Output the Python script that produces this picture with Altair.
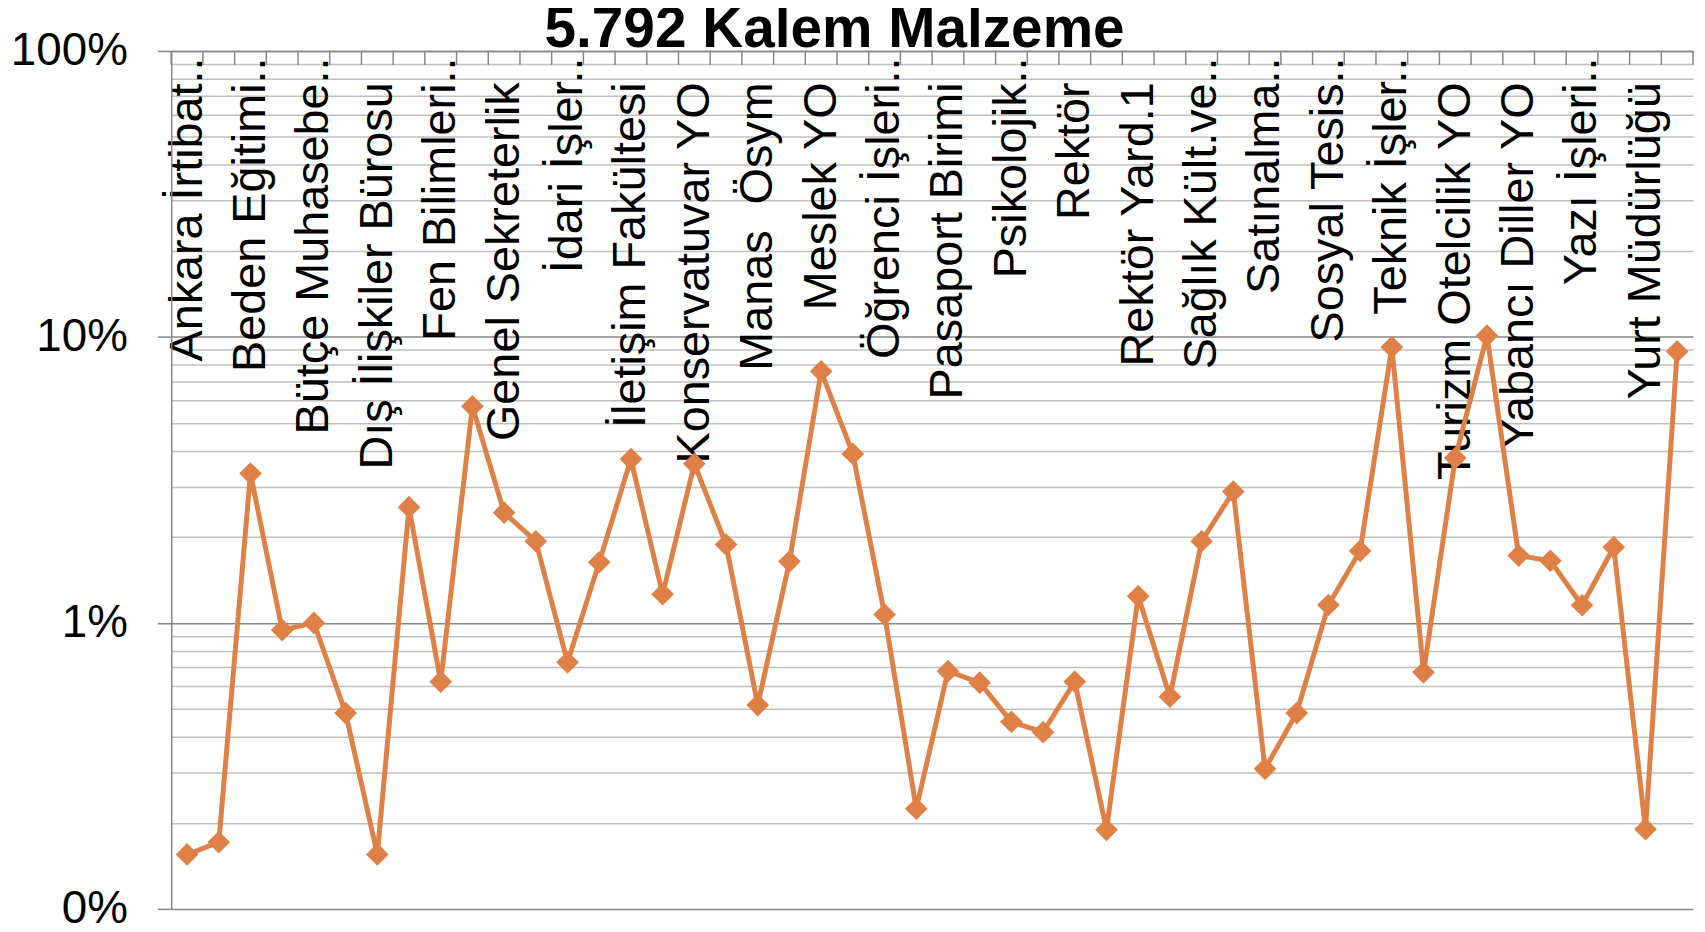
import json
import altair as alt
import pandas as pd

chart_title = "5.792 Kalem Malzeme"

# labels shown on every other category (Excel skips alternate labels)
shown_labels = [
    "Ankara İrtibat..", "Beden Eğitimi..", "Bütçe Muhasebe..", "Dış İlişkiler Bürosu",
    "Fen Bilimleri..", "Genel Sekreterlik", "İdari İşler..", "İletişim Fakültesi",
    "Konservatuvar YO", "Manas\u00a0 Ösym", "Meslek YO", "Öğrenci İşleri..",
    "Pasaport Birimi", "Psikolojik..", "Rektör", "Rektör Yard.1",
    "Sağlık Kült.ve..", "Satınalma..", "Sosyal Tesis..", "Teknik İşler..",
    "Turizm Otelcilik YO", "Yabancı Diller YO", "Yazı İşleri..", "Yurt Müdürlüğü",
]

# share of items per unit, in percent
share_pct = [
    0.155, 0.171, 3.33, 0.944, 1.0, 0.484, 0.155, 2.54, 0.623, 5.72,
    2.43, 1.93, 0.728, 1.63, 3.74, 1.26, 3.60, 1.88, 0.516, 1.64,
    7.58, 3.90, 1.07, 0.224, 0.678, 0.618, 0.451, 0.415, 0.623, 0.189,
    1.24, 0.552, 1.93, 2.88, 0.309, 0.484, 1.155, 1.785, 9.22, 0.672,
    3.77, 10.1, 1.72, 1.65, 1.153, 1.84, 0.190, 8.90,
]

n = len(share_pct)
df = pd.DataFrame({"idx": list(range(n)), "share": [v / 100 for v in share_pct]})
bounds_df = pd.DataFrame({"idx": [k - 0.5 for k in range(n + 1)]})

y_tick_values = sorted(set(
    [round(k * 10 ** e, 6) for e in (-3, -2, -1) for k in range(1, 10)] + [1.0]
))

# truncated labels overflow further toward the top edge
truncated_pos = [2 * i for i, s in enumerate(shown_labels) if s.endswith("..")]

ORANGE = "#DF8047"
MAJOR = "#878787"
MINOR = "#BFBFBF"
FONT = "Liberation Sans"

major_test = "abs(log(datum.value)/LN10 - round(log(datum.value)/LN10)) < 1e-6"
trunc_test = f"indexof({json.dumps(truncated_pos)}, datum.value) >= 0"

x_axis = alt.Axis(
    orient="top",
    values=list(range(0, n, 2)),
    labelExpr=json.dumps(shown_labels, ensure_ascii=False) + "[round(datum.value/2)]",
    labelAngle=270,
    labelAlign="right",
    labelBaseline="middle",
    labelPadding={"condition": {"test": trunc_test, "value": -6}, "value": -31},
    labelFont=FONT,
    labelFontSize=47,
    labelColor="black",
    labelFlush=False,
    labelOverlap=False,
    labelBound=False,
    labelLimit=0,
    ticks=False,
    tickSize=0,
    grid=False,
    domain=True,
    domainColor=MAJOR,
    domainWidth=1.5,
    title=None,
)

y_axis = alt.Axis(
    orient="left",
    values=y_tick_values,
    labelExpr=f"({major_test}) ? format(datum.value, '.0%') : ''",
    labelFont=FONT,
    labelFontSize=46,
    labelColor="black",
    labelPadding=30,
    labelOverlap=False,
    labelFlush=False,
    tickSize=14,
    tickWidth=1.5,
    tickColor={"condition": {"test": major_test, "value": MAJOR}, "value": "transparent"},
    grid=True,
    gridWidth=1.5,
    gridColor={"condition": {"test": major_test, "value": MAJOR}, "value": MINOR},
    domainColor=MAJOR,
    domainWidth=1.5,
    title=None,
)

x_enc = alt.X("idx:Q", scale=alt.Scale(domain=[-0.5, n - 0.5], nice=False, zero=False), axis=x_axis)

ticks = alt.Chart(bounds_df).mark_rule(color=MAJOR, strokeWidth=1.5).encode(
    x=x_enc,
    y=alt.value(0),
    y2=alt.value(14),
)

line = alt.Chart(df).mark_line(
    color=ORANGE,
    strokeWidth=5,
    point=alt.OverlayMarkDef(shape="diamond", size=520, filled=True, color=ORANGE, opacity=1),
).encode(
    x=x_enc,
    y=alt.Y("share:Q", scale=alt.Scale(type="log", domain=[0.001, 1], nice=False), axis=y_axis),
)

chart = alt.layer(ticks, line).properties(
    width=1529,
    height=862,
    autosize=alt.AutoSizeParams(type="none"),
    padding={"left": 164, "top": 41, "right": 4, "bottom": 12},
    background="white",
    title=alt.TitleParams(
        text=chart_title,
        font=FONT,
        fontSize=57,
        fontWeight="bold",
        color="black",
        anchor="middle",
        frame="group",
        dx=-98,
        offset=-76,
        baseline="alphabetic",
    ),
).configure_view(stroke=None)

chart.save("out.html", embed_options={"renderer": "svg", "actions": False})
